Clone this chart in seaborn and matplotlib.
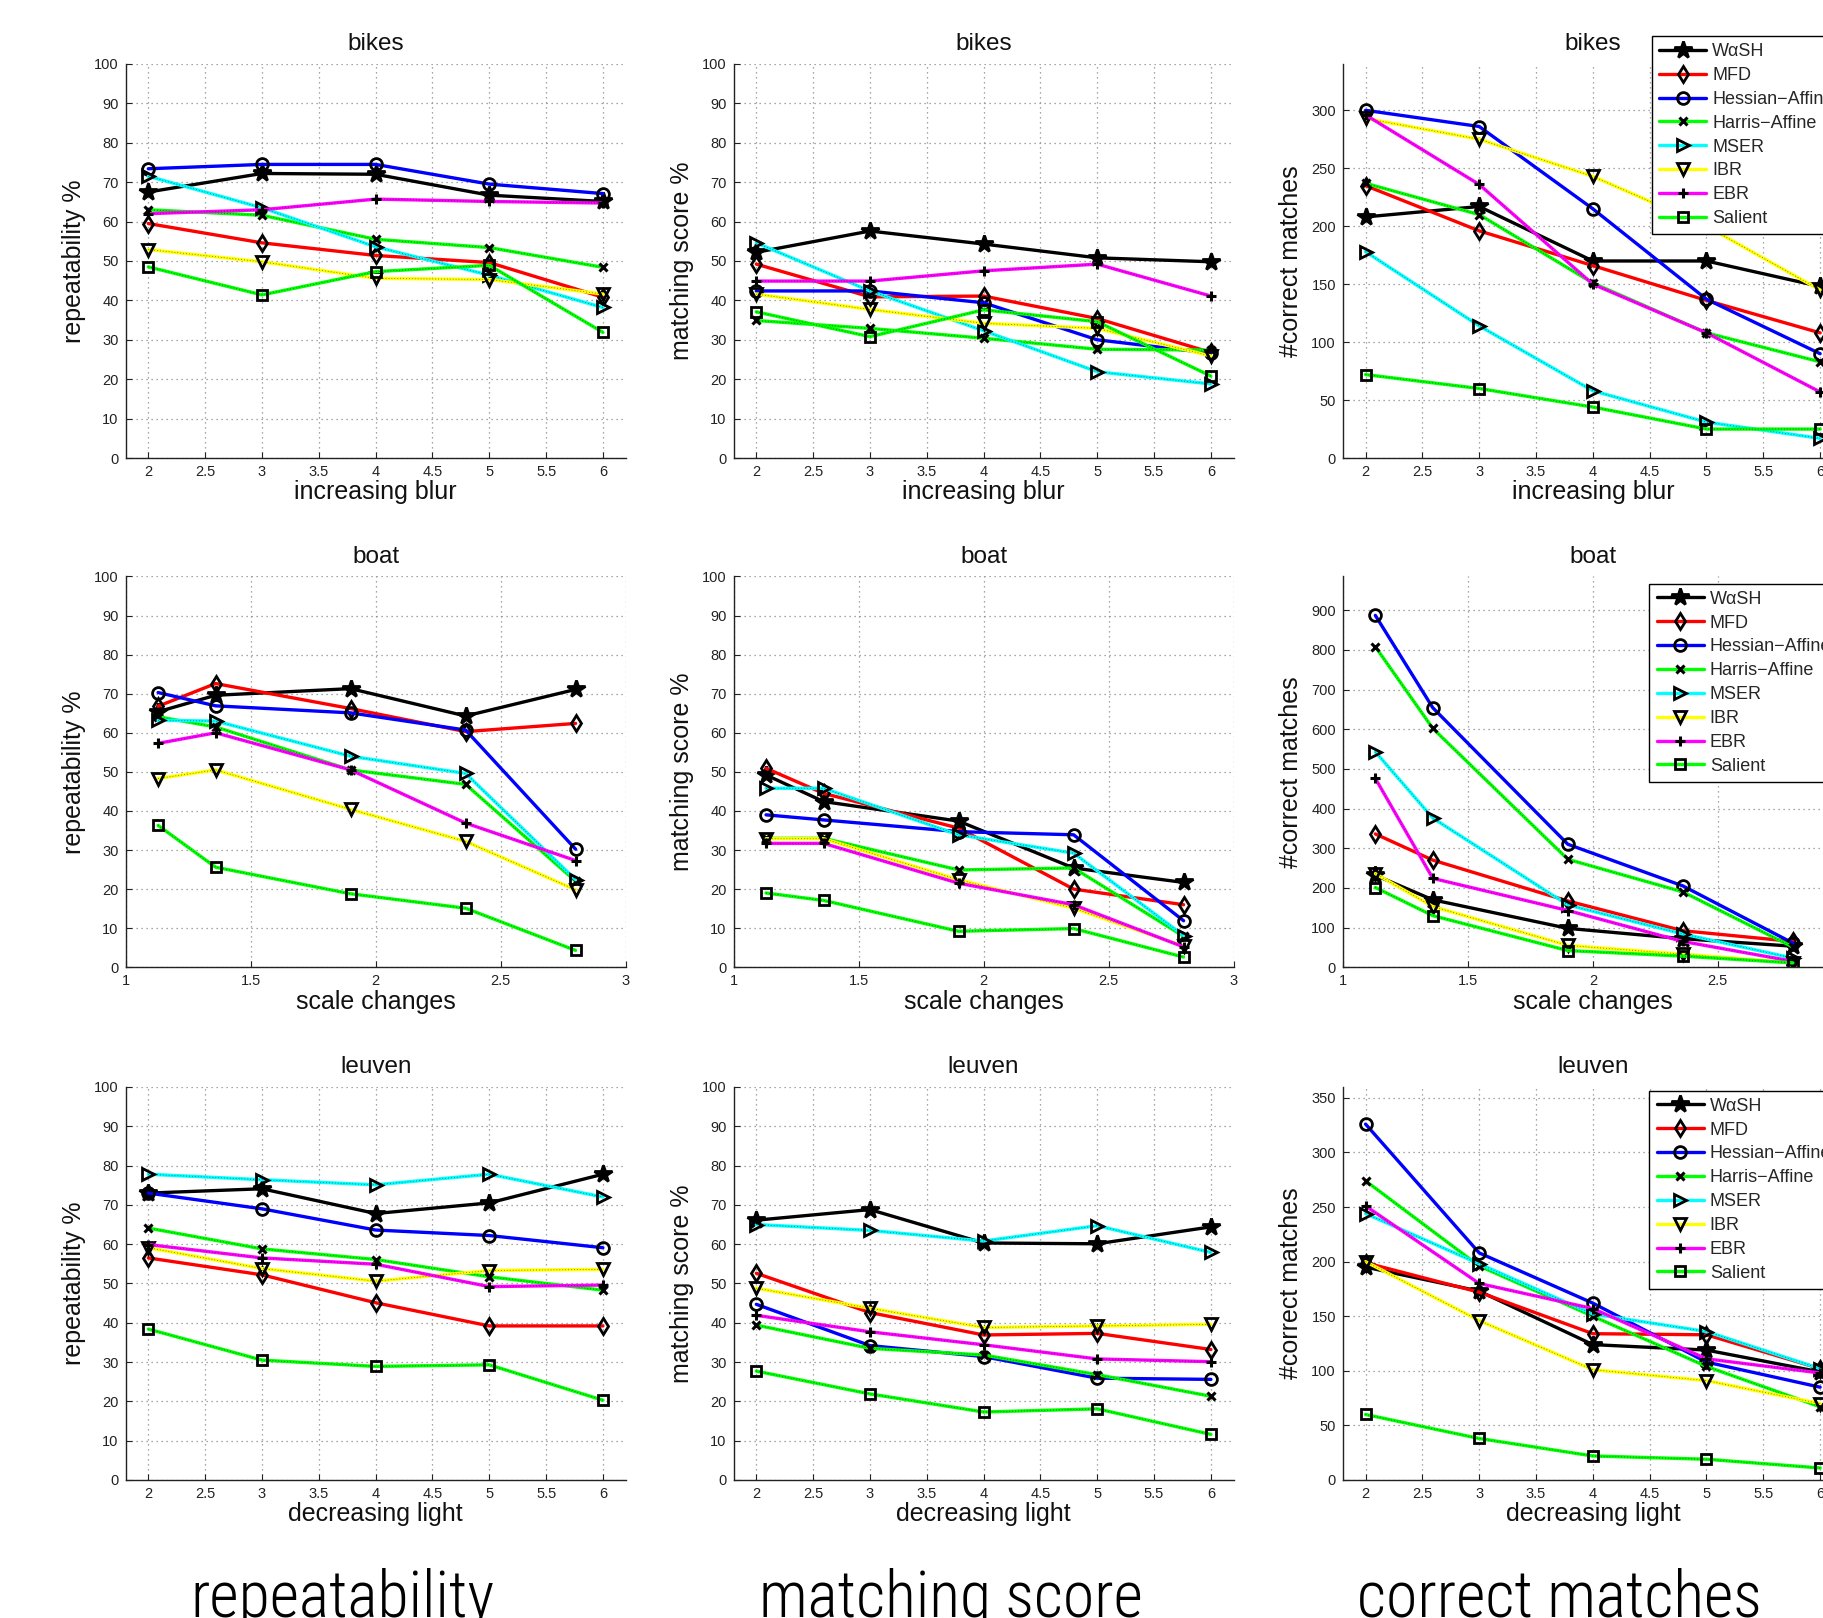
import matplotlib
matplotlib.use("Agg")
import matplotlib.pyplot as plt
import seaborn as sns
import pandas as pd
from matplotlib import font_manager as fm
from matplotlib.ticker import FuncFormatter, MultipleLocator

# ---------------- data ----------------
METHODS = ["WαSH", "MFD", "Hessian−Affine", "Harris−Affine", "MSER", "IBR", "EBR", "Salient"]
COLORS = ["#000000", "#ff0000", "#0000ff", "#00ff00", "#00ffff", "#ffff00", "#ff00ff", "#00ff00"]
MARKERS = ["*", "d", "o", "x", ">", "v", "+", "s"]

X_BLUR = [2, 3, 4, 5, 6]
X_SCALE = [1.13, 1.36, 1.9, 2.36, 2.8]
X_LIGHT = [2, 3, 4, 5, 6]

BIKES_REP = [
    [67.5, 72.2, 72.0, 66.7, 65.1],
    [59.5, 54.6, 51.4, 49.6, 40.8],
    [73.4, 74.5, 74.5, 69.5, 67.1],
    [63.0, 61.6, 55.5, 53.4, 48.4],
    [71.5, 63.5, 53.6, 46.4, 38.2],
    [52.9, 49.8, 45.6, 45.3, 41.6],
    [62.0, 63.0, 65.7, 65.1, 64.7],
    [48.5, 41.4, 47.3, 48.9, 31.9],
]
BIKES_MS = [
    [52.2, 57.6, 54.3, 50.8, 49.8],
    [49.2, 40.9, 41.1, 35.4, 26.8],
    [42.4, 42.4, 39.4, 30.0, 26.6],
    [34.9, 32.9, 30.4, 27.6, 27.4],
    [54.6, 42.4, 32.3, 21.9, 18.8],
    [41.6, 37.7, 34.2, 32.9, 25.9],
    [44.9, 44.9, 47.5, 49.2, 41.1],
    [37.1, 30.8, 37.6, 34.6, 20.8],
]
BIKES_CM = [
    [208, 217, 170, 170, 148],
    [235, 196, 166, 136, 108],
    [300, 286, 215, 137, 90],
    [237, 210, 151, 108, 83],
    [178, 114, 58, 31, 17],
    [293, 275, 243, 200, 145],
    [296, 236, 150, 108, 57],
    [72, 60, 44, 25, 25],
]
BOAT_REP = [
    [65.4, 69.6, 71.3, 64.3, 71.1],
    [66.8, 72.6, 66.2, 60.3, 62.4],
    [70.3, 66.9, 65.1, 60.7, 30.2],
    [64.1, 61.5, 50.5, 46.8, 22.0],
    [63.2, 63.0, 54.0, 49.6, 22.4],
    [48.3, 50.5, 40.4, 32.2, 19.8],
    [57.3, 60.0, 50.5, 36.9, 27.3],
    [36.3, 25.6, 18.8, 15.1, 4.3],
]
BOAT_MS = [
    [49.2, 42.4, 37.4, 25.4, 21.7],
    [50.9, 44.5, 35.6, 20.0, 16.0],
    [39.0, 37.7, 34.7, 33.9, 11.9],
    [33.0, 33.0, 24.9, 25.4, 7.9],
    [45.8, 45.8, 33.9, 29.2, 8.1],
    [32.9, 32.9, 22.4, 15.1, 5.4],
    [31.7, 31.7, 21.5, 16.0, 5.2],
    [19.0, 17.1, 9.2, 9.9, 2.6],
]
BOAT_CM = [
    [232, 170, 98, 72, 53],
    [336, 270, 167, 92, 65],
    [887, 654, 310, 205, 61],
    [808, 602, 272, 190, 51],
    [543, 376, 157, 84, 23],
    [236, 153, 55, 33, 11],
    [476, 224, 143, 65, 15],
    [201, 130, 42, 28, 11],
]
LEUVEN_REP = [
    [73.0, 74.1, 67.8, 70.5, 77.8],
    [56.5, 52.2, 45.1, 39.2, 39.2],
    [73.0, 69.0, 63.6, 62.2, 59.1],
    [64.1, 58.8, 56.1, 51.7, 48.3],
    [77.8, 76.4, 75.1, 77.8, 72.0],
    [59.1, 53.8, 50.6, 53.3, 53.6],
    [59.9, 56.5, 54.9, 49.2, 49.6],
    [38.4, 30.5, 28.9, 29.3, 20.3],
]
LEUVEN_MS = [
    [66.1, 68.8, 60.3, 60.1, 64.4],
    [52.6, 42.6, 36.9, 37.3, 33.2],
    [44.7, 34.2, 31.4, 25.9, 25.6],
    [39.4, 33.5, 31.8, 26.8, 21.3],
    [65.0, 63.5, 60.8, 64.7, 57.9],
    [48.8, 43.7, 38.8, 39.2, 39.6],
    [41.9, 37.7, 34.4, 30.8, 30.1],
    [27.7, 21.9, 17.3, 18.1, 11.6],
]
LEUVEN_CM = [
    [195, 173, 124, 119, 99],
    [199, 172, 134, 133, 102],
    [326, 208, 162, 108, 85],
    [274, 196, 150, 104, 67],
    [244, 198, 152, 136, 102],
    [200, 146, 101, 91, 70],
    [251, 180, 157, 111, 98],
    [60, 38, 22, 19, 11],
]

ROW_TITLES = ["bikes", "boat", "leuven"]
ROW_XLABELS = ["increasing blur", "scale changes", "decreasing light"]
COL_YLABELS = ["repeatability %", "matching score %", "#correct matches"]
BOTTOM_LABELS = ["repeatability", "matching score", "correct matches"]

# ---------------- style ----------------
sns.set_theme(style="white")
plt.rcParams["font.family"] = ["Liberation Sans", "DejaVu Sans"]
plt.rcParams["axes.edgecolor"] = "#222222"

# narrow font for the big bottom captions
names = {f.name: f.fname for f in fm.fontManager.ttflist}
big_fp = None
for cand in ["Liberation Sans Narrow", "DejaVu Sans Condensed", "Roboto Condensed",
             "Open Sans Condensed", "Noto Sans Condensed"]:
    if cand in names:
        big_fp = fm.FontProperties(family=cand, weight="light")
        break
if big_fp is None:
    for f in fm.fontManager.ttflist:
        if f.stretch in ("condensed", "semi-condensed") and f.style == "normal" and f.weight in (300, 400, "normal", "light"):
            big_fp = fm.FontProperties(fname=f.fname)
            break

fig = plt.figure(figsize=(18.23, 16.18), dpi=100)
fig.patch.set_facecolor("white")

COL_LEFT = [0.0689, 0.4024, 0.7366]
AX_W = 0.2743
ROW_BOTTOM = [0.7169, 0.4022, 0.0853]
ROW_H = [0.2436, 0.2415, 0.2429]

MS = {"*": 13, "d": 8.5, "o": 8.5, "x": 5.5, ">": 8.5, "v": 8.5, "+": 7.5, "s": 7}
DOTTED = {3, 4, 5, 6, 7}

panels = [
    [(X_BLUR, BIKES_REP), (X_BLUR, BIKES_MS), (X_BLUR, BIKES_CM)],
    [(X_SCALE, BOAT_REP), (X_SCALE, BOAT_MS), (X_SCALE, BOAT_CM)],
    [(X_LIGHT, LEUVEN_REP), (X_LIGHT, LEUVEN_MS), (X_LIGHT, LEUVEN_CM)],
]
XLIMS = [(1.8, 6.2), (1.0, 3.0), (1.8, 6.2)]
CM_YLIM = [(0, 340, 50), (0, 985, 100), (0, 360, 50)]
LEG_ANCHOR = [(0.618, 1.071), (0.613, 0.982), (0.613, 0.991)]

fmt = FuncFormatter(lambda v, p: f"{v:g}")

for r in range(3):
    for c in range(3):
        x, table = panels[r][c]
        ax = fig.add_axes([COL_LEFT[c], ROW_BOTTOM[r], AX_W, ROW_H[r]])
        ax.set_facecolor("white")
        for i, (name, col, mk) in enumerate(zip(METHODS, COLORS, MARKERS)):
            df = pd.DataFrame({"x": x, "y": table[i]})
            mfc = "black" if mk in ("*", "x", "+") else "none"
            sns.lineplot(data=df, x="x", y="y", ax=ax, color=col, lw=2.4, marker=mk,
                         ms=MS[mk], mec="black", mfc=mfc,
                         mew=2.2 if mk in ("x", "+") else 2.0,
                         label=name, sort=False, legend=False)
            if i in DOTTED:
                sns.lineplot(data=df, x="x", y="y", ax=ax, color="black", lw=0.6,
                             linestyle=(0, (1, 2.5)), alpha=0.6, sort=False, legend=False)
        ax.set_xlim(*XLIMS[r])
        ax.xaxis.set_major_locator(MultipleLocator(0.5))
        if c < 2:
            ax.set_ylim(0, 100)
            ax.yaxis.set_major_locator(MultipleLocator(10))
        else:
            lo, hi, st = CM_YLIM[r]
            ax.set_ylim(lo, hi)
            ax.yaxis.set_major_locator(MultipleLocator(st))
        ax.xaxis.set_major_formatter(fmt)
        ax.yaxis.set_major_formatter(fmt)
        ax.set_axisbelow(True)
        ax.grid(True, linestyle=(0, (1, 3)), color="#8a8a8a", linewidth=0.9)
        for s in ("top", "right"):
            ax.spines[s].set_visible(False)
        for s in ("left", "bottom"):
            ax.spines[s].set_linewidth(1.0)
            ax.spines[s].set_color("#222222")
        ax.tick_params(direction="in", length=4, width=0.8, labelsize=10.5, pad=5,
                       colors="#222222", bottom=True, left=True)
        ax.set_title(ROW_TITLES[r], fontsize=17.5, pad=10, color="#111111")
        ax.set_xlabel(ROW_XLABELS[r], fontsize=18, labelpad=1, color="#111111")
        ax.set_ylabel(COL_YLABELS[c], fontsize=18, labelpad=6, color="#111111")
        if c == 2:
            h, l = ax.get_legend_handles_labels()
            leg = ax.legend(h, l, loc="upper left", bbox_to_anchor=LEG_ANCHOR[r],
                            fontsize=13, frameon=True, fancybox=False, edgecolor="black",
                            framealpha=1, borderpad=0.4, labelspacing=0.38,
                            handlelength=2.6, handletextpad=0.35, borderaxespad=0)
            leg.get_frame().set_linewidth(1.0)

BIG_X = [0.1881, 0.5214, 0.8552]
for xc, txt in zip(BIG_X, BOTTOM_LABELS):
    kw = dict(ha="center", va="baseline", color="black")
    if big_fp is not None:
        t = fig.text(xc, 0.001, txt, fontproperties=big_fp, **kw)
        t.set_fontsize(46)
    else:
        t = fig.text(xc, 0.001, txt, family="DejaVu Sans", **kw)
        t.set_fontsize(38)

fig.savefig("out.png", dpi=100)
